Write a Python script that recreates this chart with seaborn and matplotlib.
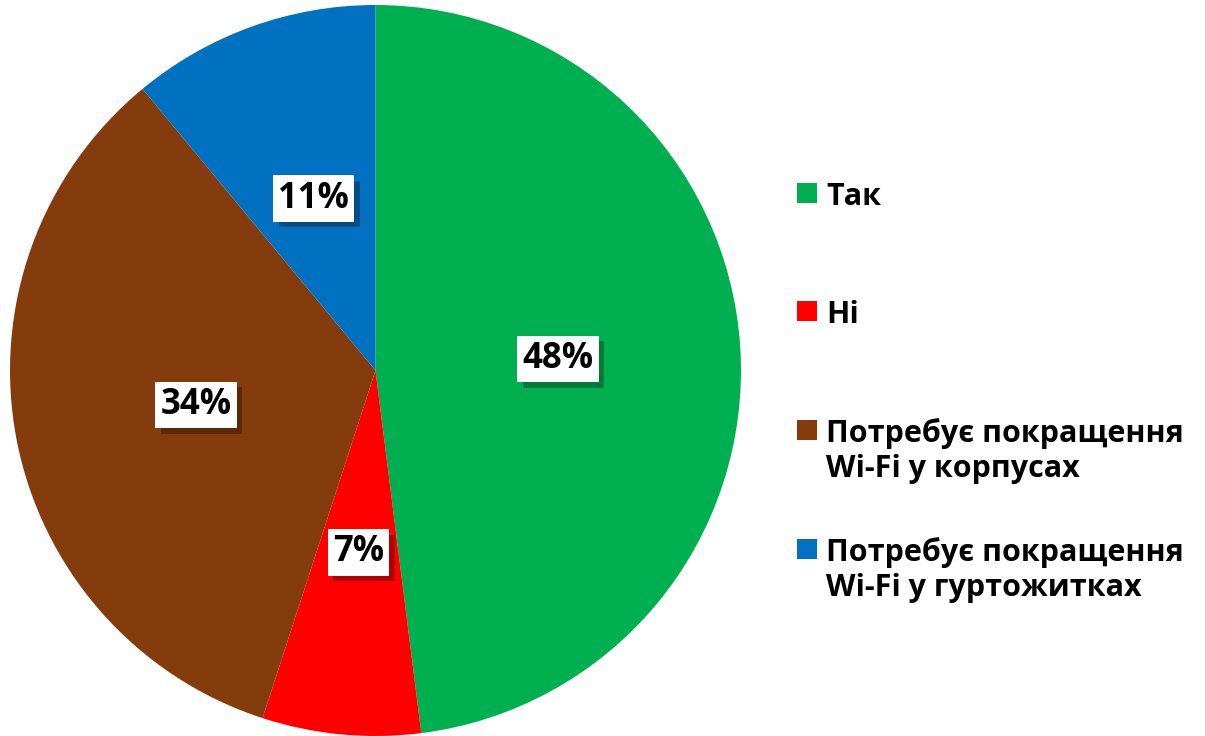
import matplotlib
matplotlib.use('Agg')
import matplotlib.pyplot as plt
import matplotlib.patheffects as pe
from matplotlib.patches import Rectangle
from matplotlib.legend_handler import HandlerPatch
import seaborn as sns

sns.set_theme(style='white')
plt.rcParams['font.family'] = ['Open Sans', 'DejaVu Sans']
plt.rcParams['font.weight'] = 'bold'
plt.rcParams['text.color'] = 'black'

# дані
categories = ['Так', 'Ні', 'Потребує покращення\nWi-Fi у корпусах', 'Потребує покращення\nWi-Fi у гуртожитках']
values = [48, 7, 34, 11]
colors = ['#00B050', '#FF0000', '#843C0C', '#0070C0']

fig = plt.figure(figsize=(12.05, 7.36), dpi=100)
fig.patch.set_facecolor('white')
ax = fig.add_axes([10/1205, 1 - 736/736, 731/1205, 731/736])

wedges, texts, autotexts = ax.pie(values, colors=colors, startangle=90, counterclock=False,
                                  autopct='%1.0f%%', pctdistance=0.5, radius=1,
                                  wedgeprops=dict(linewidth=0))
ax.set_xlim(-1, 1)
ax.set_ylim(-1, 1)
ax.set_aspect('equal')

for t in autotexts:
    t.set_fontsize(25)
    t.set_fontweight('bold')
    t.set_color('black')
    t.set_bbox(dict(boxstyle='square,pad=0.15', facecolor='white', edgecolor='none'))
    t.get_bbox_patch().set_path_effects([
        pe.SimplePatchShadow(offset=(4, -4), alpha=0.3, shadow_rgbFace='black'),
        pe.Normal()])

# всі підписи легенди по два рядки, щоб відступи були однакові
leg_labels = [c if '\n' in c else c + '\n' for c in categories]

def square(legend, orig_handle, xdescent, ydescent, width, height, fontsize):
    # квадратик на рівні першого рядка
    return Rectangle((-xdescent, -ydescent + 0.72 * fontsize), width, width)

leg = fig.legend(wedges, leg_labels, loc='upper left', bbox_to_anchor=(797/1205, 1 - 182/736),
                 frameon=False, prop=dict(weight='bold', size=22),
                 handlelength=0.65, handleheight=0.65, handletextpad=0.3,
                 labelspacing=1.75, borderpad=0, borderaxespad=0,
                 handler_map={w: HandlerPatch(patch_func=square) for w in wedges})

fig.savefig('out.png', dpi=100)
